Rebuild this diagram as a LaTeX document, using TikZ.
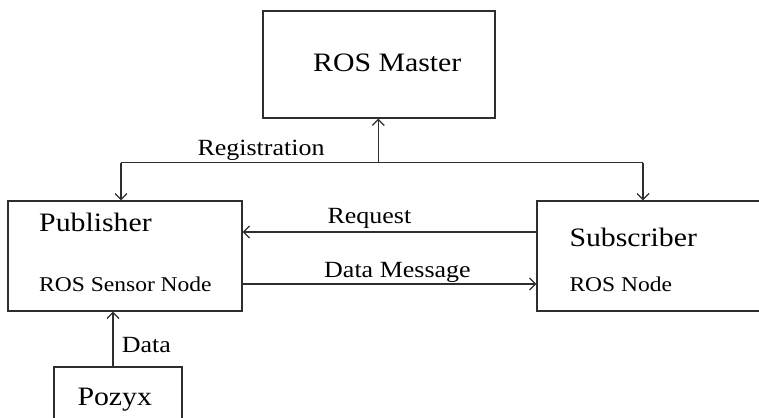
\documentclass[tikz,border=0pt]{standalone}
\usepackage{fontspec}
\setmainfont{Liberation Serif}[FakeStretch=1.12]
\usetikzlibrary{arrows.meta}
\definecolor{ink}{HTML}{2E2E2E}
\tikzset{
  box/.style={draw=ink, line width=1.3pt, inner sep=0pt, minimum width=#1},
  title/.style={inner sep=0pt, anchor=base west, font=\fontsize{26.6}{30}\selectfont, text=black},
  sub/.style={inner sep=0pt, anchor=base west, font=\fontsize{21}{24}\selectfont, text=black},
  lbl/.style={inner sep=0pt, anchor=base west, font=\fontsize{23.2}{26}\selectfont, text=black},
  link/.style={draw=ink, line width=1.3pt},
  arr/.style={link, -{Straight Barb[length=6pt,width=12pt,line width=1.2pt]}},
}
\begin{document}
\begin{tikzpicture}[x=1pt,y=-1pt]
\useasboundingbox (0,0) rectangle (759,417);
\clip (0,0) rectangle (759,417);

% boxes
\node[box=232pt, minimum height=107pt] (master) at (379,64.5) {};
\node[box=234pt, minimum height=110pt] (pub) at (125,256) {};
\node[box=225pt, minimum height=110pt] (sub) at (649.5,256) {};
\node[box=128pt, minimum height=64pt] (pozyx) at (118,399) {};

% box texts
\node[title] (tmaster) at (313,71.7) {ROS Master};
\node[title] (tpub) at (39,231.7) {Publisher};
\node[sub] (tpubs) at (39,291.7) {ROS Sensor Node};
\node[title] (tsub) at (569.3,246.7) {Subscriber};
\node[sub] (tsubs) at (569.3,291) {ROS Node};
\node[title] (tpozyx) at (77.3,405) {Pozyx};

% registration bus
\coordinate (regL) at (121,162.7);
\coordinate (regR) at (643,162.7);
\coordinate (regM) at (378.3,162.7);
\draw[link] (regL) -- (regR);
\draw[arr] (regL) -- (regL |- pub.north);
\draw[arr] (regR) -- (regR |- sub.north);
\draw[arr] (regM) -- (regM |- master.south);
\node[lbl] (lreg) at (197.3,155) {Registration};

% request / data message
\coordinate (rq) at (0,232);
\coordinate (dm) at (0,284);
\draw[arr] (sub.west |- rq) -- (pub.east |- rq);
\draw[arr] (pub.east |- dm) -- (sub.west |- dm);
\node[lbl] (lreq) at (327.3,223.3) {Request};
\node[lbl] (ldm) at (324,277.3) {Data Message};

% sensor data
\coordinate (dx) at (113,0);
\draw[arr] (dx |- pozyx.north) -- (dx |- pub.south);
\node[lbl] (ldata) at (121.7,352.3) {Data};
\end{tikzpicture}
\end{document}
